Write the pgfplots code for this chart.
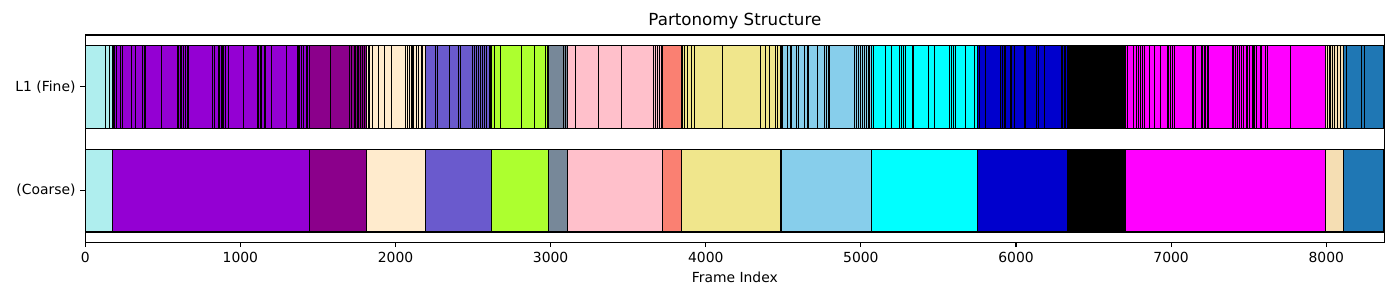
\documentclass[border=0pt]{standalone}
\usepackage{pgfplots}
\usepackage{pgfplotstable}
\pgfplotsset{compat=1.18}
\usepackage{fontspec}
\setmainfont{DejaVu Sans}
\definecolor{cA}{HTML}{AFEEEE}
\definecolor{cB}{HTML}{9400D3}
\definecolor{cC}{HTML}{8B008B}
\definecolor{cD}{HTML}{FFEBCD}
\definecolor{cE}{HTML}{6A5ACD}
\definecolor{cF}{HTML}{ADFF2F}
\definecolor{cG}{HTML}{778899}
\definecolor{cH}{HTML}{FFC0CB}
\definecolor{cI}{HTML}{FA8072}
\definecolor{cJ}{HTML}{F0E68C}
\definecolor{cK}{HTML}{87CEEB}
\definecolor{cL}{HTML}{00FFFF}
\definecolor{cM}{HTML}{0000CD}
\definecolor{cN}{HTML}{000000}
\definecolor{cO}{HTML}{FF00FF}
\definecolor{cP}{HTML}{F5DEB3}
\definecolor{cQ}{HTML}{1F77B4}
\pgfplotstableread{
x y
131 0.6
157 0.6
182 0.6
191 0.6
202 0.6
226 0.6
237 0.6
301 0.6
324 0.6
369 0.6
380 0.6
391 0.6
494 0.6
595 0.6
604 0.6
612 0.6
621 0.6
634 0.6
645 0.6
656 0.6
666 0.6
817 0.6
830 0.6
857 0.6
866 0.6
875 0.6
883 0.6
894 0.6
905 0.6
926 0.6
1017 0.6
1107 0.6
1117 0.6
1128 0.6
1139 0.6
1154 0.6
1163 0.6
1203 0.6
1300 0.6
1367 0.6
1373 0.6
1382 0.6
1397 0.6
1407 0.6
1427 0.6
1433 0.6
1578 0.6
1704 0.6
1717 0.6
1734 0.6
1743 0.6
1754 0.6
1762 0.6
1773 0.6
1784 0.6
1797 0.6
1826 0.6
1835 0.6
1850 0.6
1891 0.6
1930 0.6
1971 0.6
2065 0.6
2078 0.6
2093 0.6
2102 0.6
2110 0.6
2119 0.6
2134 0.6
2145 0.6
2168 0.6
2177 0.6
2259 0.6
2271 0.6
2351 0.6
2403 0.6
2420 0.6
2497 0.6
2506 0.6
2519 0.6
2532 0.6
2545 0.6
2558 0.6
2574 0.6
2587 0.6
2603 0.6
2613 0.6
2639 0.6
2674 0.6
2809 0.6
2899 0.6
2970 0.6
2979 0.6
3084 0.6
3097 0.6
3161 0.6
3309 0.6
3458 0.6
3666 0.6
3673 0.6
3688 0.6
3701 0.6
3716 0.6
3853 0.6
3866 0.6
3879 0.6
3905 0.6
3928 0.6
4111 0.6
4350 0.6
4386 0.6
4412 0.6
4448 0.6
4463 0.6
4497 0.6
4527 0.6
4543 0.6
4553 0.6
4586 0.6
4599 0.6
4637 0.6
4653 0.6
4663 0.6
4721 0.6
4766 0.6
4779 0.6
4788 0.6
4796 0.6
4960 0.6
4969 0.6
4983 0.6
4996 0.6
5009 0.6
5022 0.6
5037 0.6
5046 0.6
5054 0.6
5080 0.6
5156 0.6
5198 0.6
5252 0.6
5259 0.6
5272 0.6
5285 0.6
5330 0.6
5338 0.6
5437 0.6
5475 0.6
5572 0.6
5585 0.6
5598 0.6
5611 0.6
5675 0.6
5733 0.6
5762 0.6
5804 0.6
5903 0.6
5912 0.6
5923 0.6
5931 0.6
5965 0.6
5974 0.6
5987 0.6
6052 0.6
6060 0.6
6135 0.6
6142 0.6
6148 0.6
6185 0.6
6292 0.6
6301 0.6
6310 0.6
6318 0.6
6449 0.6
6664 0.6
6720 0.6
6758 0.6
6778 0.6
6791 0.6
6803 0.6
6816 0.6
6825 0.6
6858 0.6
6894 0.6
6933 0.6
6974 0.6
6982 0.6
6997 0.6
7006 0.6
7019 0.6
7135 0.6
7143 0.6
7158 0.6
7195 0.6
7201 0.6
7216 0.6
7223 0.6
7236 0.6
7242 0.6
7393 0.6
7401 0.6
7412 0.6
7427 0.6
7442 0.6
7455 0.6
7468 0.6
7483 0.6
7494 0.6
7507 0.6
7522 0.6
7528 0.6
7539 0.6
7552 0.6
7573 0.6
7580 0.6
7609 0.6
7622 0.6
7767 0.6
8011 0.6
8020 0.6
8028 0.6
8041 0.6
8056 0.6
8073 0.6
8093 0.6
8132 0.6
8229 0.6
8248 0.6
}\fine
\newcommand{\segfill}[3]{%
\addplot[fill=#3, draw=none, forget plot] coordinates {(#1,-0.4) (#2,-0.4) (#2,0.4) (#1,0.4)} --cycle;
\addplot[fill=#3, draw=none, forget plot] coordinates {(#1,0.6) (#2,0.6) (#2,1.4) (#1,1.4)} --cycle;
}
\newcommand{\segdraw}[2]{%
\addplot[draw=black, line width=0.75pt, forget plot] coordinates {(#1,-0.4) (#2,-0.4) (#2,0.4) (#1,0.4)} --cycle;
\addplot[draw=black, line width=0.75pt, forget plot] coordinates {(#1,0.6) (#2,0.6) (#2,1.4) (#1,1.4)} --cycle;
}
\begin{document}
\begin{tikzpicture}
\begin{axis}[
  scale only axis, width=935.4pt, height=149.3pt,
  xmin=0, xmax=8375, ymin=-0.5, ymax=1.5,
  ytick={0,1}, yticklabels={(Coarse), L1 (Fine)},
  xtick={0,1000,2000,3000,4000,5000,6000,7000,8000},
  scaled x ticks=false,
  xticklabel style={/pgf/number format/1000 sep={}},
  /pgf/number format/assume math mode=true,
  tick align=outside, major tick length=3.5pt,
  tick style={black, line width=0.8pt},
  xtick pos=left, ytick pos=left,
  axis line style={line width=0.8pt},
  ticklabel style={font=\fontsize{10}{12}\selectfont},
  title={Partonomy Structure},
  title style={font=\fontsize{12}{14}\selectfont, yshift=-5.5pt},
  xlabel={Frame Index},
  xlabel style={font=\fontsize{10}{12}\selectfont},
  axis on top,
]
\segfill{0}{176}{cA}
\segfill{176}{1446}{cB}
\segfill{1446}{1814}{cC}
\segfill{1814}{2194}{cD}
\segfill{2194}{2620}{cE}
\segfill{2620}{2987}{cF}
\segfill{2987}{3110}{cG}
\segfill{3110}{3724}{cH}
\segfill{3724}{3844}{cI}
\segfill{3844}{4485}{cJ}
\segfill{4485}{5069}{cK}
\segfill{5069}{5753}{cL}
\segfill{5753}{6331}{cM}
\segfill{6331}{6705}{cN}
\segfill{6705}{7996}{cO}
\segfill{7996}{8112}{cP}
\segfill{8112}{8370}{cQ}
\addplot[quiver={u value=0, v value=0.8}, -, black, line width=0.72pt, forget plot] table[x=x, y=y] {\fine};
\segdraw{0}{176}
\segdraw{176}{1446}
\segdraw{1446}{1814}
\segdraw{1814}{2194}
\segdraw{2194}{2620}
\segdraw{2620}{2987}
\segdraw{2987}{3110}
\segdraw{3110}{3724}
\segdraw{3724}{3844}
\segdraw{3844}{4485}
\segdraw{4485}{5069}
\segdraw{5069}{5753}
\segdraw{5753}{6331}
\segdraw{6331}{6705}
\segdraw{6705}{7996}
\segdraw{7996}{8112}
\segdraw{8112}{8370}
\coordinate (SW) at (rel axis cs:0,0);
\coordinate (NE) at (rel axis cs:1,1);
\end{axis}
\pgfresetboundingbox
\path ([shift={(-61.4pt,-41.5pt)}]SW) rectangle ([shift={(11.2pt,25.2pt)}]NE);
\end{tikzpicture}
\end{document}
